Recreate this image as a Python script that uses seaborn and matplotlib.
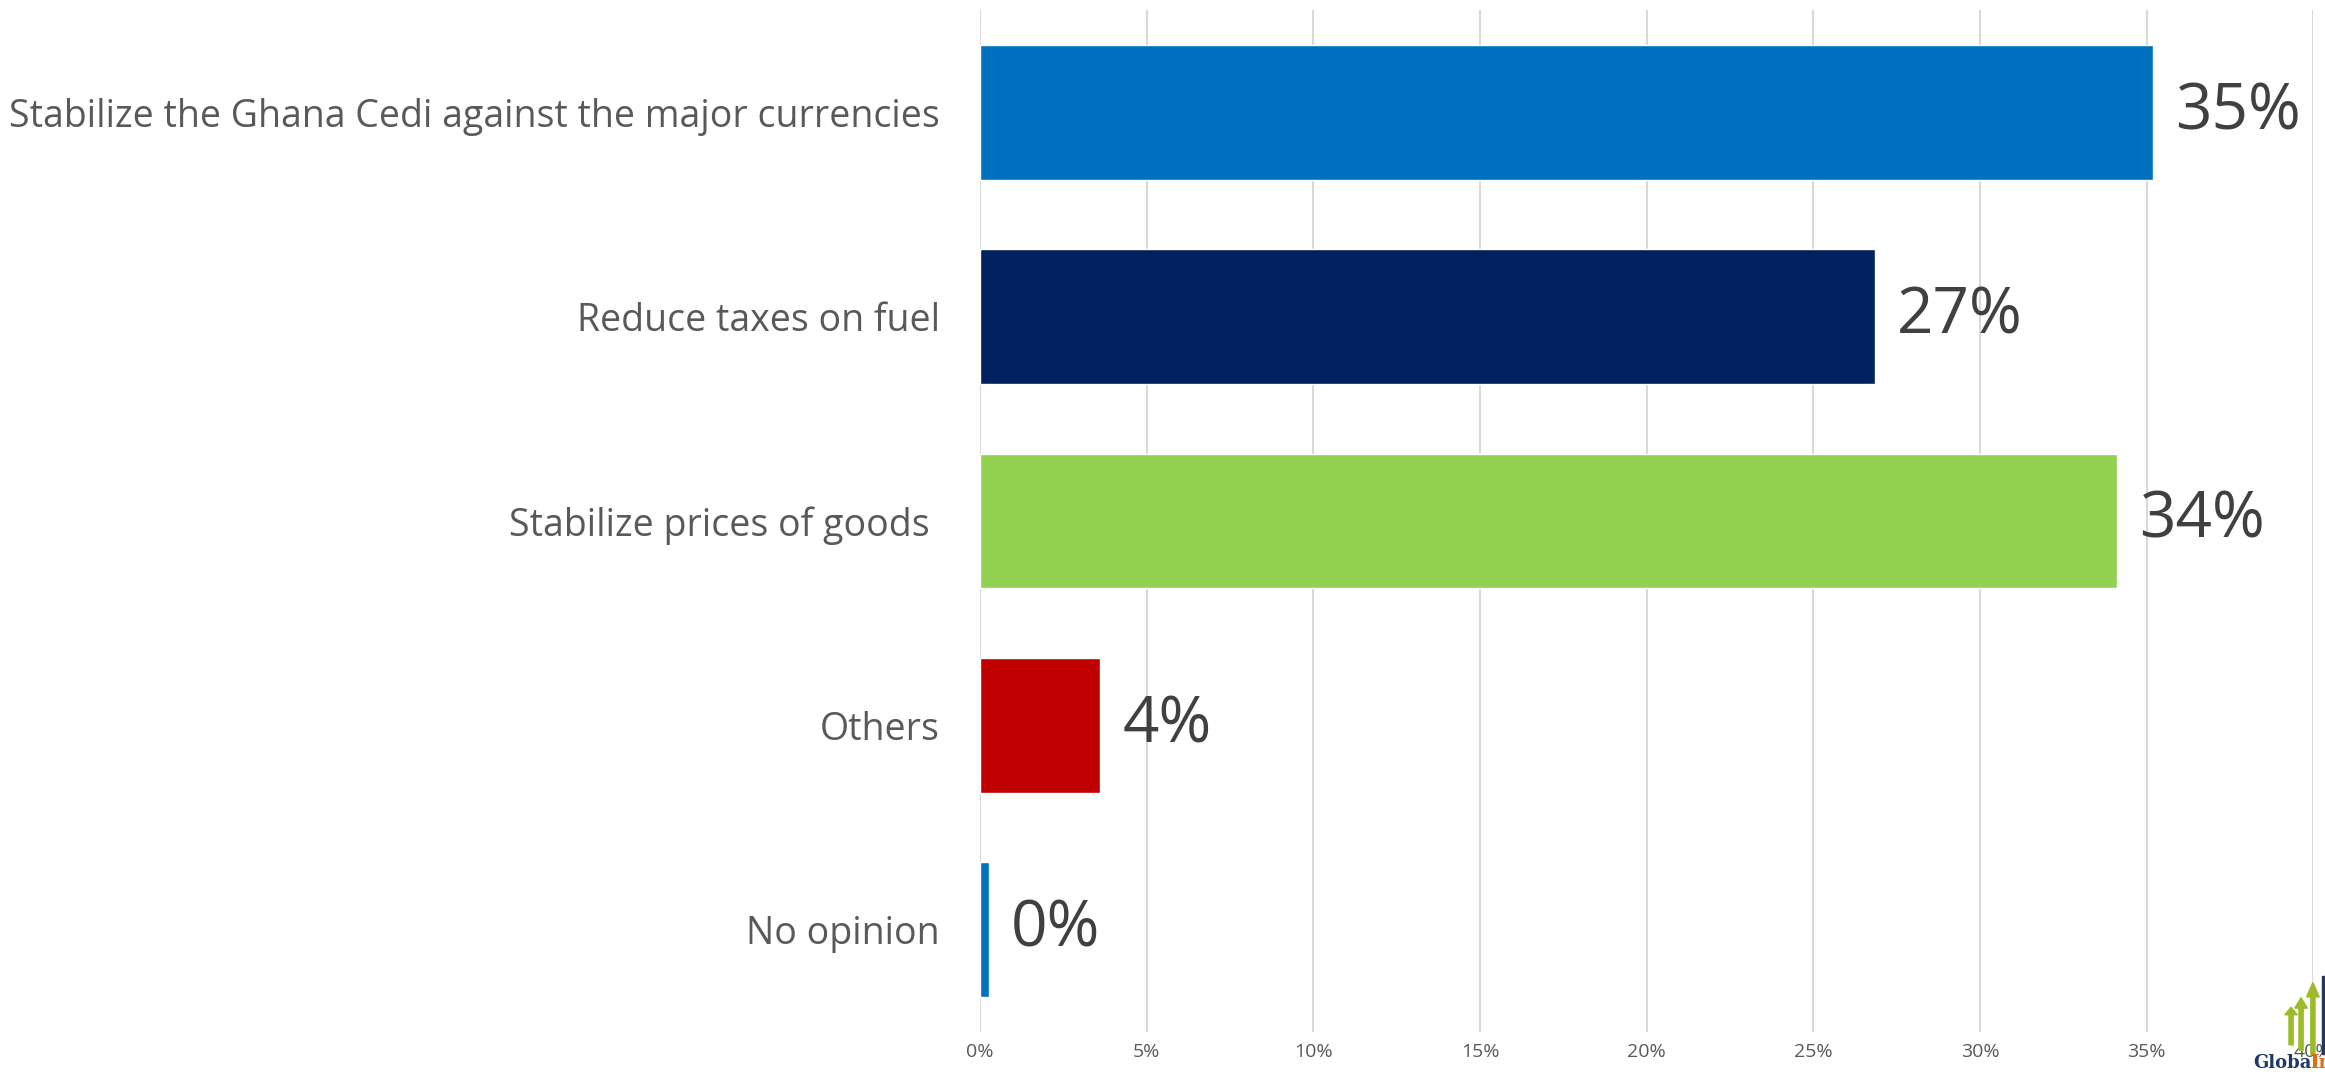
import pandas as pd
import matplotlib.pyplot as plt
import seaborn as sns
from matplotlib.ticker import FuncFormatter

categories = [
    "Stabilize the Ghana Cedi against the major currencies",
    "Reduce taxes on fuel",
    "Stabilize prices of goods ",
    "Others",
    "No opinion",
]
values = [35.2, 26.85, 34.1, 3.6, 0.27]
labels = ["35%", "27%", "34%", "4%", "0%"]
colors = ["#0070C0", "#002060", "#92D050", "#C00000", "#0070C0"]

df = pd.DataFrame({"option": categories, "share": values})

sns.set_style("white")
plt.rcParams["font.family"] = ["Open Sans", "DejaVu Sans"]

fig = plt.figure(figsize=(23.25, 10.75), dpi=100)
ax = fig.add_axes([0.4215, 0.04, 0.5735, 0.9507])

sns.barplot(data=df, x="share", y="option", hue="option", palette=colors,
            orient="h", width=0.66, legend=False, ax=ax, saturation=1)

ax.set_xlim(0, 40)
ax.set_ylim(4.5, -0.5)
ax.set_xticks(range(0, 41, 5))
ax.xaxis.set_major_formatter(FuncFormatter(lambda v, p: f"{v:.0f}%"))
ax.grid(axis="x", color="#D9D9D9", linewidth=1.5)
ax.set_axisbelow(True)
for s in ax.spines.values():
    s.set_visible(False)
ax.set_xlabel("")
ax.set_ylabel("")
ax.tick_params(axis="y", length=0, pad=29, labelsize=27, labelcolor="#595959")
ax.tick_params(axis="x", length=0, pad=8, labelsize=14, labelcolor="#595959")

for i, (v, lab) in enumerate(zip(values, labels)):
    ax.annotate(lab, (v, i), xytext=(16, 0), textcoords="offset points",
                va="center", ha="left", fontsize=46, color="#404040")

# logo in the corner (partly cut off, as in the source)
for x0, y0, h in [(0.9854, 0.028, 0.035), (0.9897, 0.023, 0.049), (0.9948, 0.019, 0.067)]:
    fig.patches.append(plt.Arrow(x0, y0, 0, h, width=0.009, color="#9BBB2A",
                                 transform=fig.transFigure, figure=fig))
fig.patches.append(plt.Rectangle((0.9985, 0.02), 0.004, 0.072, color="#1F3864",
                                 transform=fig.transFigure, figure=fig))
fig.text(0.969, 0.003, "Global", fontsize=13, color="#1F3864",
         family="DejaVu Serif", weight="bold", ha="left", va="bottom")
fig.text(0.9935, 0.003, "Info", fontsize=13, color="#E46C0A",
         family="DejaVu Serif", weight="bold", ha="left", va="bottom")

fig.savefig("out.png", dpi=100)
